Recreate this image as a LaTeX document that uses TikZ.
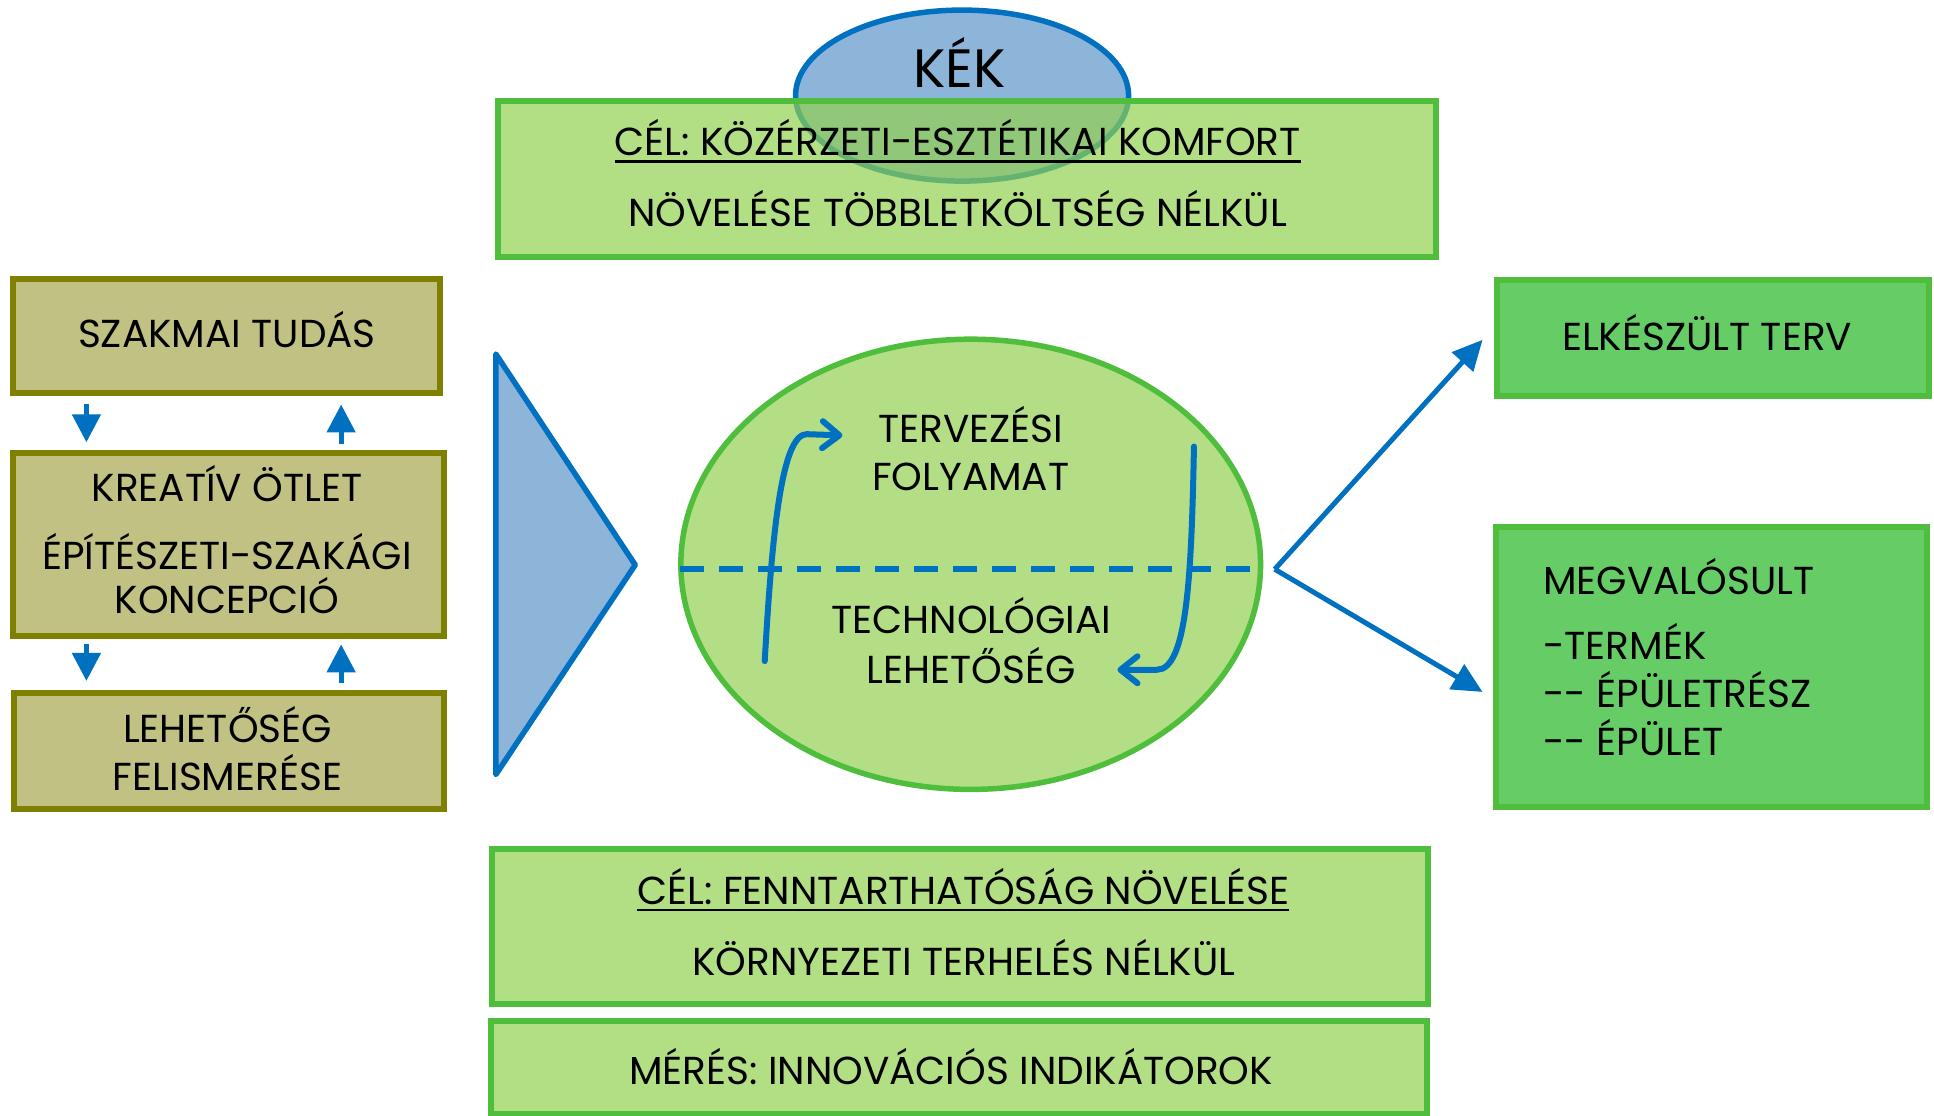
\documentclass[tikz,border=0pt]{standalone}
\usepackage{fontspec}
\setmainfont{Poppins}
\usetikzlibrary{arrows.meta,fit,shapes.geometric,calc}
\definecolor{bl}{RGB}{0,112,192}
\definecolor{kekfill}{RGB}{141,180,217}
\definecolor{lgfill}{RGB}{146,208,80}
\definecolor{ellfill}{RGB}{179,222,133}
\definecolor{gborder}{RGB}{78,190,60}
\definecolor{dgfill}{RGB}{102,204,102}
\definecolor{olfill}{RGB}{193,193,132}
\definecolor{olborder}{RGB}{128,128,0}
\tikzset{
  txt/.style={inner sep=0pt, anchor=base, font=\fontsize{39}{44}\selectfont},
  lgbox/.style={draw=gborder, line width=6pt, fill=lgfill, fill opacity=0.7, inner sep=0pt},
  dgbox/.style={draw=gborder, line width=6pt, fill=dgfill, inner sep=0pt},
  olbox/.style={draw=olborder, line width=6pt, fill=olfill, inner sep=0pt},
  sarr/.style={draw=bl, line width=5pt, -{Triangle[length=28pt,width=28pt]}},
  barr/.style={draw=bl, line width=5pt, -{Triangle[length=30pt,width=28pt]}},
  carr/.style={draw=bl, line width=6pt, line cap=round, line join=round, -{Straight Barb[length=17pt,width=27pt,round]}},
  uline/.style={draw=black, line width=2.2pt}
}
\begin{document}
\begin{tikzpicture}[x=1.2334pt,y=-1.2334pt]
\useasboundingbox (0,0) rectangle (1568,904.8);

% KEK ellipse
\node[ellipse, draw=bl, line width=5.5pt, fill=kekfill, minimum width=333pt, minimum height=171pt, inner sep=0pt] (kek) at (780,77.5) {};
\node[txt, font=\fontsize{54}{60}\selectfont] (kektxt) at (778,70.8) {KÉK};

% top goal box
\node[lgbox, fit={(404,82) (1164,208)}] (top) {};
\node[txt] (top1) at (776.5,126) {CÉL: KÖZÉRZETI-ESZTÉTIKAI KOMFORT};
\draw[uline] ($(top1.base west)+(0,5)$) -- ($(top1.base east)+(0,5)$);
\node[txt] (top2) at (776.5,184) {NÖVELÉSE TÖBBLETKÖLTSÉG NÉLKÜL};

% left olive boxes
\node[olbox, fit={(10.5,226) (357,319)}] (szak) {};
\node[txt] (szakt) at (184,282) {SZAKMAI TUDÁS};
\node[olbox, fit={(10.5,367) (360,516)}] (kre) {};
\node[txt] (kre1) at (184,406.7) {KREATÍV ÖTLET};
\node[txt] (kre2) at (184,461.6) {ÉPÍTÉSZETI-SZAKÁGI};
\node[txt] (kre3) at (184,497.3) {KONCEPCIÓ};
\node[olbox, fit={(11,562) (360,656)}] (leh) {};
\node[txt] (leh1) at (184.5,602) {LEHETŐSÉG};
\node[txt] (leh2) at (184.5,641) {FELISMERÉSE};

% small arrows
\draw[sarr] ($(szak.south west)+(62,6)$) -- ($(kre.north west)+(62,-6)$);
\draw[sarr] ($(kre.north west)+(268.5,-5)$) -- ($(szak.south west)+(268.5,6.5)$);
\draw[sarr] ($(kre.south west)+(62,3.5)$) -- ($(leh.north west)+(61.5,-7.5)$);
\draw[sarr] ($(leh.north west)+(268,-6)$) -- ($(kre.south west)+(268.5,4)$);

% triangle
\coordinate (triA) at (402,287);
\coordinate (triB) at (515,458);
\coordinate (triC) at (402,628);
\draw[draw=bl, line width=5.5pt, fill=kekfill, line join=round] (triA) -- (triB) -- (triC) -- cycle;

% central ellipse
\node[ellipse, draw=gborder, line width=5.5pt, fill=ellfill, minimum width=579.7pt, minimum height=450.2pt, inner sep=0pt] (ell) at (787,457.5) {};
\draw[draw=bl, line width=6pt, dash pattern=on 24pt off 15pt] ($(ell.west)+(1.5,3.5)$) -- ($(ell.east)+(-1.5,3.5)$);
\node[txt] (ter1) at (787,359) {TERVEZÉSI};
\node[txt] (ter2) at (787,398) {FOLYAMAT};
\node[txt] (tec1) at (787.5,514) {TECHNOLÓGIAI};
\node[txt] (tec2) at (787.5,554) {LEHETŐSÉG};

% curved arrows
\coordinate (la0) at (620,536);
\coordinate (la1) at (683,353);
\draw[carr] (la0) .. controls (626,430) and (634,352) .. (654,352) -- (la1);
\coordinate (ra0) at (968,362);
\coordinate (ra1) at (906,543);
\draw[carr] (ra0) .. controls (966,470) and (962,543) .. (938,543) -- (ra1);

% right boxes
\node[dgbox, fit={(1214,227) (1564,321)}] (elk) {};
\node[txt] (elkt) at (1384,284) {ELKÉSZÜLT TERV};
\node[dgbox, fit={(1213,427) (1562,654)}] (meg) {};
\node[txt, anchor=base west] (meg1) at (1251,481.7) {MEGVALÓSULT};
\node[txt, anchor=base west] (meg2) at (1251,534.4) {-TERMÉK};
\node[txt, anchor=base west] (meg3) at (1251,573.5) {-{}- ÉPÜLETRÉSZ};
\node[txt, anchor=base west] (meg4) at (1251,612.6) {-{}- ÉPÜLET};

% fork arrows
\coordinate (fork) at (1033.5,461.5);
\coordinate (t1) at (1202,275.5);
\coordinate (t2) at (1202,561);
\draw[barr] (fork) -- (t1);
\draw[barr] (fork) -- (t2);

% bottom boxes
\node[lgbox, fit={(399,688) (1158,814)}] (fen) {};
\node[txt] (fen1) at (781,733) {CÉL: FENNTARTHATÓSÁG NÖVELÉSE};
\draw[uline] ($(fen1.base west)+(0,5)$) -- ($(fen1.base east)+(0,5)$);
\node[txt] (fen2) at (781.5,791) {KÖRNYEZETI TERHELÉS NÉLKÜL};
\node[lgbox, fit={(398,828) (1157,903)}] (mer) {};
\node[txt] (mert) at (771,879) {MÉRÉS: INNOVÁCIÓS INDIKÁTOROK};
\end{tikzpicture}
\end{document}
